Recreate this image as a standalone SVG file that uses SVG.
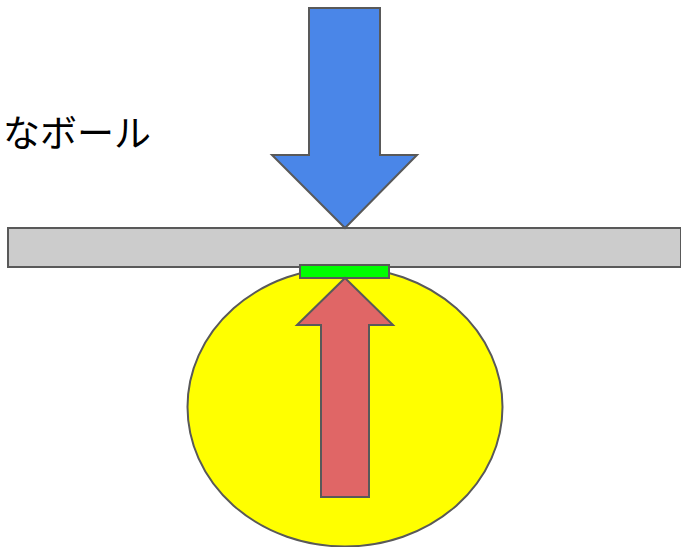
<svg xmlns="http://www.w3.org/2000/svg" width="681" height="547" viewBox="0 0 681 547">
<style>
.s{stroke:#595959;stroke-width:2;stroke-linejoin:miter}
.t{font-family:"Noto Sans CJK JP","Noto Sans",sans-serif;font-size:37px;fill:#000}
</style>
<rect width="681" height="547" fill="#fff"/>
<g id="label"><text class="t" x="3" y="147">なボール</text></g>
<g id="ball"><ellipse class="s" cx="345" cy="407" rx="157.5" ry="139.5" fill="#ffff00"/></g>
<g id="bar"><rect class="s" x="8" y="228" width="673" height="39" fill="#cccccc"/></g>
<g id="pad"><rect class="s" x="300" y="265" width="89" height="13" fill="#00ff00"/></g>
<g id="connectors">
<path id="down-arrow" class="s" fill="#4a86e8" d="M309,8 H380 V155 H417 L345,228 L272,155 H309 Z"/>
<path id="up-arrow" class="s" fill="#e06666" d="M345,278 L393,325 H369 V497 H321 V325 H297 Z"/>
</g>
</svg>
